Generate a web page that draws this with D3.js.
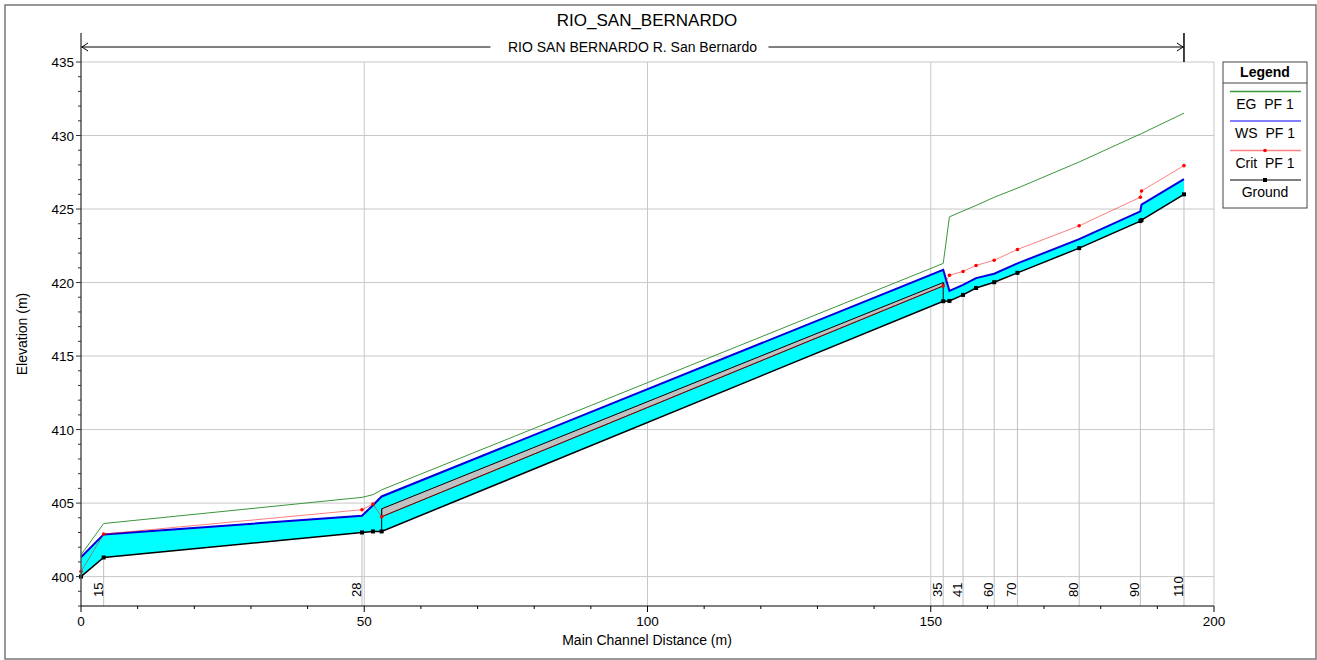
<!DOCTYPE html>
<html>
<head>
<meta charset="utf-8">
<script src="https://cdn.jsdelivr.net/npm/d3@7"></script>
<style>
  body { margin: 0; background: #fff; }
  svg text { font-family: "Liberation Sans", Arial, sans-serif; fill: #000; white-space: pre; }
</style>
</head>
<body>
<svg id="chart" width="1317" height="660"></svg>
<script>
// profile data (main channel distance, m)
var stations = [0, 4.0, 49.6, 51.54, 53.07, 152.2, 153.3, 155.7, 158.0, 161.2, 165.3, 176.2, 187.0, 187.2, 194.7];
var ground   = [400.0, 401.3, 403.0, 403.07, 403.07, 418.73, 418.75, 419.16, 419.63, 420.02, 420.66, 422.34, 424.18, 424.25, 426.0];
var wsPF1    = [401.32, 402.87, 404.14, 404.85, 405.45, 420.86, 419.43, 419.84, 420.3, 420.6, 421.3, 422.95, 424.84, 425.3, 427.04];
var critPF1  = [400.34, 402.89, 404.55, 404.93, 404.07, 419.77, 420.5, 420.75, 421.16, 421.52, 422.25, 423.86, 425.8, 426.23, 427.95];
var egPF1    = [401.48, 403.61, 405.39, 405.57, 405.9, 421.3, 424.47, 424.87, 425.24, 425.8, 426.42, 428.2, 430.1, 430.13, 431.52];

// culvert (grey band)
var culvertStations = [53.07, 152.2];
var culvertTop      = [404.61, 420.0];
var culvertInvert   = [404.07, 419.77];

// labelled river stations
var rsNames     = ["15", "28", "35", "41", "60", "70", "80", "90", "110"];
var rsDistances = [4.0, 49.6, 152.2, 155.7, 161.2, 165.3, 176.2, 187.0, 194.7];

var xTicks = [0, 50, 100, 150, 200];
var yTicks = [400, 405, 410, 415, 420, 425, 430, 435];

var legendNames = ["EG  PF 1", "WS  PF 1", "Crit  PF 1", "Ground"];

function drawProfile() {
    var svg = d3.select("#chart");

    var x = d3.scaleLinear().domain([0, 200]).range([81, 1214]);
    var y = d3.scaleLinear().domain([398, 435]).range([606, 62]);

    var pts = stations.map((s, i) => ({s: s, g: ground[i], ws: wsPF1[i], cr: critPF1[i], eg: egPF1[i]}));

    // outer frame
    svg.append("rect")
        .attr("x", 5).attr("y", 5).attr("width", 1311).attr("height", 654)
        .attr("fill", "none").attr("stroke", "#777").attr("stroke-width", 1.5);

    // title
    svg.append("text")
        .attr("x", 647).attr("y", 26)
        .attr("text-anchor", "middle")
        .style("font-size", "17px")
        .text("RIO_SAN_BERNARDO");

    // STEP 1: grid
    var grid = svg.append("g").attr("class", "grid");
    grid.selectAll("line.h").data(yTicks).enter().append("line")
        .attr("x1", x(0)).attr("x2", x(200))
        .attr("y1", d => y(d)).attr("y2", d => y(d))
        .attr("stroke", "#c8c8c8");
    grid.selectAll("line.v").data(xTicks.slice(1)).enter().append("line")
        .attr("x1", d => x(d)).attr("x2", d => x(d))
        .attr("y1", y(435)).attr("y2", y(398))
        .attr("stroke", "#c8c8c8");

    // station lines, ground down to axis
    rsDistances.forEach(function(d) {
        var i = stations.indexOf(d);
        grid.append("line")
            .attr("x1", x(d)).attr("x2", x(d))
            .attr("y1", y(ground[i])).attr("y2", y(398))
            .attr("stroke", "#c0c0c0");
    });

    // STEP 2: water fill
    var area = d3.area()
        .x(d => x(d.s))
        .y0(d => y(d.g))
        .y1(d => y(d.ws));
    svg.append("path").datum(pts)
        .attr("d", area)
        .attr("fill", "#00ffff");

    // culvert band
    var cPts = culvertStations.map((s, i) => ({s: s, t: culvertTop[i], b: culvertInvert[i]}));
    svg.append("path").datum(cPts)
        .attr("d", d3.area().x(d => x(d.s)).y0(d => y(d.b)).y1(d => y(d.t)))
        .attr("fill", "#c0c0c0").attr("stroke", "#000").attr("stroke-width", 1);
    culvertStations.forEach(function(s, i) {
        var gi = stations.indexOf(s);
        svg.append("line")
            .attr("x1", x(s)).attr("x2", x(s))
            .attr("y1", y(ground[gi])).attr("y2", y(culvertTop[i]))
            .attr("stroke", "#000").attr("stroke-width", 1);
    });

    // STEP 3: lines
    var line = key => d3.line().x(d => x(d.s)).y(d => y(d[key]));

    svg.append("path").datum(pts)
        .attr("d", line("eg"))
        .attr("fill", "none").attr("stroke", "#3c963c").attr("stroke-width", 1);

    svg.append("path").datum(pts)
        .attr("d", line("ws"))
        .attr("fill", "none").attr("stroke", "#0000dd").attr("stroke-width", 2);

    svg.append("path").datum(pts)
        .attr("d", line("cr"))
        .attr("fill", "none").attr("stroke", "#ff0000").attr("stroke-opacity", 0.5).attr("stroke-width", 1);
    svg.selectAll("circle.crit").data(pts).enter().append("circle")
        .attr("class", "crit")
        .attr("cx", d => x(d.s)).attr("cy", d => y(d.cr)).attr("r", 1.8)
        .attr("fill", "#ff0000");

    svg.append("path").datum(pts)
        .attr("d", line("g"))
        .attr("fill", "none").attr("stroke", "#000").attr("stroke-width", 1.5);
    svg.selectAll("rect.gpt").data(pts).enter().append("rect")
        .attr("class", "gpt")
        .attr("x", d => x(d.s) - 2).attr("y", d => y(d.g) - 2)
        .attr("width", 4).attr("height", 4)
        .attr("fill", "#000");

    // station labels
    svg.selectAll("text.rs").data(rsNames).enter().append("text")
        .attr("class", "rs")
        .attr("transform", (d, i) => "translate(" + (x(rsDistances[i]) - 1) + ",597) rotate(-90)")
        .style("font-size", "13px")
        .text(d => d);

    // STEP 4: axes
    var yAxis = svg.append("g");
    yAxis.append("line")
        .attr("x1", 81).attr("x2", 81).attr("y1", 33).attr("y2", 606)
        .attr("stroke", "#555").attr("stroke-width", 1.5);
    yAxis.selectAll("line.minor").data(d3.range(398, 436)).enter().append("line")
        .attr("x1", d => (d % 5 === 0 ? 76 : 78)).attr("x2", 81)
        .attr("y1", d => y(d)).attr("y2", d => y(d))
        .attr("stroke", "#333");
    yAxis.selectAll("text").data(yTicks).enter().append("text")
        .attr("x", 74).attr("y", d => y(d) + 5)
        .attr("text-anchor", "end")
        .style("font-size", "13.5px")
        .text(d => d);

    var xAxis = svg.append("g");
    xAxis.append("line")
        .attr("x1", 81).attr("x2", 1214).attr("y1", 606).attr("y2", 606)
        .attr("stroke", "#000").attr("stroke-width", 1);
    xAxis.selectAll("line.t").data(d3.range(0, 201, 10)).enter().append("line")
        .attr("x1", d => x(d)).attr("x2", d => x(d))
        .attr("y1", 606).attr("y2", d => (d % 50 === 0 ? 612 : 609))
        .attr("stroke", "#000");
    xAxis.selectAll("text").data(xTicks).enter().append("text")
        .attr("x", d => x(d)).attr("y", 626)
        .attr("text-anchor", "middle")
        .style("font-size", "13.5px")
        .text(d => d);

    svg.append("text")
        .attr("x", 647).attr("y", 645)
        .attr("text-anchor", "middle")
        .style("font-size", "14px")
        .text("Main Channel Distance (m)");
    svg.append("text")
        .attr("transform", "translate(27,334) rotate(-90)")
        .attr("text-anchor", "middle")
        .style("font-size", "14px")
        .text("Elevation (m)");

    // STEP 5: reach arrow
    var xEnd = x(194.7);
    svg.append("line")
        .attr("x1", 81).attr("x2", xEnd).attr("y1", 47).attr("y2", 47)
        .attr("stroke", "#000");
    svg.append("line")
        .attr("x1", xEnd).attr("x2", xEnd).attr("y1", 33).attr("y2", 62)
        .attr("stroke", "#000").attr("stroke-width", 1.5);
    svg.append("path")
        .attr("d", "M" + (81 + 7) + ",43 L82,47 L" + (81 + 7) + ",51")
        .attr("fill", "none").attr("stroke", "#000");
    svg.append("path")
        .attr("d", "M" + (xEnd - 7) + ",43 L" + (xEnd - 1) + ",47 L" + (xEnd - 7) + ",51")
        .attr("fill", "none").attr("stroke", "#000");
    var midX = (81 + xEnd) / 2;
    svg.append("rect")
        .attr("x", midX - 142).attr("y", 39).attr("width", 278).attr("height", 16)
        .attr("fill", "#fff");
    svg.append("text")
        .attr("x", midX).attr("y", 52)
        .attr("text-anchor", "middle")
        .style("font-size", "14px")
        .text("RIO SAN BERNARDO R. San Bernardo");

    // STEP 6: legend
    var lg = svg.append("g");
    lg.append("rect")
        .attr("x", 1223).attr("y", 62).attr("width", 84).attr("height", 146)
        .attr("fill", "#fff").attr("stroke", "#444");
    lg.append("line")
        .attr("x1", 1223).attr("x2", 1307).attr("y1", 83).attr("y2", 83)
        .attr("stroke", "#444");
    lg.append("text")
        .attr("x", 1265).attr("y", 77)
        .attr("text-anchor", "middle")
        .style("font-size", "14px").style("font-weight", "bold")
        .text("Legend");

    var lgColors = ["#3c963c", "#5555ff", "#ff8080", "#000"];
    legendNames.forEach(function(name, i) {
        var ly = 91.5 + i * 29.5;
        lg.append("line")
            .attr("x1", 1230).attr("x2", 1301).attr("y1", ly).attr("y2", ly)
            .attr("stroke", lgColors[i]).attr("stroke-width", i === 3 ? 1.2 : 1.5);
        if (i === 2) {
            lg.append("circle").attr("cx", 1265).attr("cy", ly).attr("r", 1.8).attr("fill", "#ff0000");
        }
        if (i === 3) {
            lg.append("rect").attr("x", 1263).attr("y", ly - 2).attr("width", 4).attr("height", 4).attr("fill", "#000");
        }
        lg.append("text")
            .attr("x", 1265).attr("y", ly + 17)
            .attr("text-anchor", "middle")
            .style("font-size", "14px")
            .text(name);
    });
}

drawProfile();
</script>
</body>
</html>
